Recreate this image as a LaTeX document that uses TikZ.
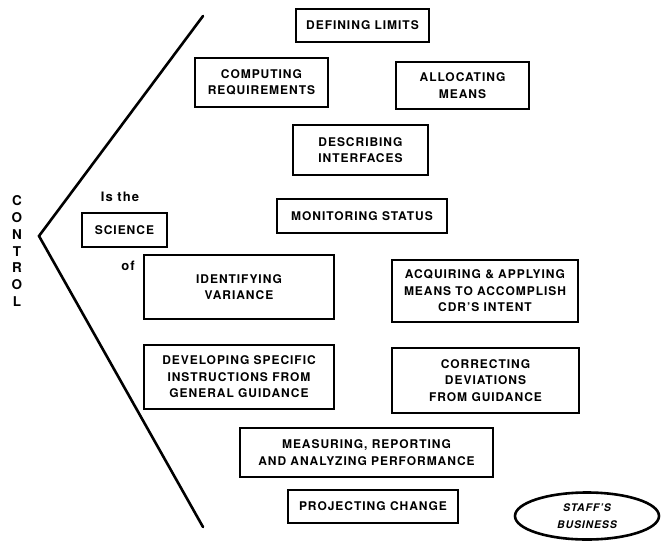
\documentclass[tikz,border=0pt]{standalone}
\usepackage{fontspec}
\setmainfont{TeX Gyre Heros}[LetterSpace=8]
\usetikzlibrary{shapes.geometric}
\begin{document}
\begin{tikzpicture}[x=1pt,y=-1pt,
  txt/.style={font=\bfseries\fontsize{12}{16.5}\selectfont, align=center, inner sep=0pt},
  small/.style={font=\bfseries\fontsize{13}{16}\selectfont, inner sep=0pt},
  box/.style={txt, draw, line width=2.6pt, rectangle},
  oval/.style={draw, line width=2.6pt, ellipse, inner sep=0pt,
    font=\bfseries\itshape\fontsize{10.5}{17}\selectfont, align=center},
  vline/.style={line width=2.6pt, line cap=round, line join=miter}]
\useasboundingbox (0,0) rectangle (661,541);

% the opening angle
\coordinate (top) at (203,16);
\coordinate (apex) at (39,236);
\coordinate (bot) at (203,527);
\draw[vline] (top) -- (apex) -- (bot);

% vertical title
\node[txt, font=\bfseries\fontsize{13.5}{16.8}\selectfont] (title) at (17,251)
  {C\\O\\N\\T\\R\\O\\L};

\node[small] (isthe) at (120,197) {Is the};
\node[box, minimum width=85, minimum height=34] (science) at (124.5,230) {SCIENCE};
\node[small] (of) at (128,266) {of};

\node[box, minimum width=133, minimum height=33] (limits) at (362.5,25.5) {DEFINING LIMITS};
\node[box, minimum width=133, minimum height=49] (comp) at (261.5,82.5) {COMPUTING\\REQUIREMENTS};
\node[box, minimum width=133, minimum height=47] (alloc) at (462.5,85.5) {ALLOCATING\\MEANS};
\node[box, minimum width=135, minimum height=50] (desc) at (360.5,150) {DESCRIBING\\INTERFACES};
\node[box, minimum width=170, minimum height=34] (monitor) at (362,216) {MONITORING STATUS};
\node[box, minimum width=190, minimum height=64] (ident) at (239,287) {IDENTIFYING\\VARIANCE};
\node[box, minimum width=186, minimum height=62] (acq) at (485,291) {ACQUIRING \& APPLYING\\MEANS TO ACCOMPLISH\\CDR'S INTENT};
\node[box, minimum width=190, minimum height=64] (dev) at (239,377) {DEVELOPING SPECIFIC\\INSTRUCTIONS FROM\\GENERAL GUIDANCE};
\node[box, minimum width=187, minimum height=65] (corr) at (485.5,380.5) {CORRECTING\\DEVIATIONS\\FROM GUIDANCE};
\node[box, minimum width=253, minimum height=49] (meas) at (366.5,452.5) {MEASURING, REPORTING\\AND ANALYZING PERFORMANCE};
\node[box, minimum width=170, minimum height=33] (proj) at (373,506.5) {PROJECTING CHANGE};

\node[oval, minimum width=144, minimum height=47] (staff) at (587,516) {STAFF'S\\BUSINESS};
\end{tikzpicture}
\end{document}
